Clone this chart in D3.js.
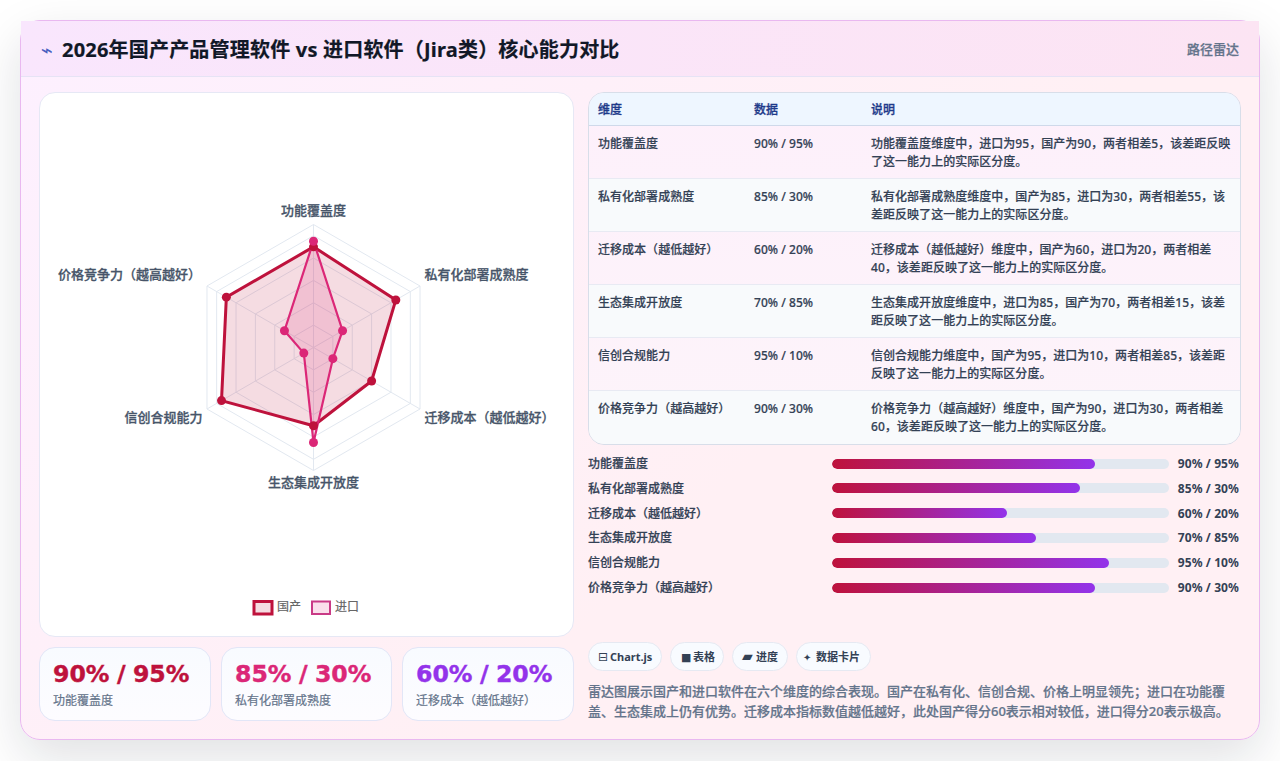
<!DOCTYPE html>
<html lang="zh"><head><meta charset="utf-8">
<script src="https://cdn.jsdelivr.net/npm/d3@7/dist/d3.min.js"></script>
<style>
*{box-sizing:border-box}
html,body{margin:0;padding:0;width:1280px;height:761px;overflow:hidden;background:#fff;font-family:"Noto Sans","Noto Sans CJK SC",sans-serif}
#card{position:absolute;left:20px;top:20px;width:1240px;height:720px;border:1px solid #e9b8f0;border-radius:20px;background:linear-gradient(135deg,#fdf0ff 0,#fff0f4 60%,#fff0f4 100%);box-shadow:0 18px 50px rgba(15,23,42,.13)}
#head{position:absolute;left:0;top:0;width:100%;height:56px;background:linear-gradient(90deg,#f9e6fd,#fce4f3);border-bottom:1px solid #e6e3f5}
#title{position:absolute;left:41px;top:14px;font-size:20px;letter-spacing:.2px;font-weight:700;color:#111827;line-height:30px;white-space:nowrap;-webkit-text-stroke:.2px #111827}
#ico{position:absolute;left:20px;top:14px;font-size:20px;color:#4a5fc0;line-height:30px;font-family:"DejaVu Sans"}
#src{position:absolute;right:20px;top:16px;font-size:13px;font-weight:500;color:#64748b;-webkit-text-stroke:.25px #64748b;line-height:24px}
#chartbox{position:absolute;left:18px;top:71px;width:535px;height:545px;background:#fff;border:1px solid #e6e8f5;border-radius:16px}
svg{position:absolute;left:0;top:0}
.kpi{position:absolute;top:626px;height:74px;background:linear-gradient(180deg,#f8fbff,#fdfcff);border:1px solid #e2e6f7;border-radius:16px}
.kpi b{position:absolute;left:13px;top:9px;font-size:23.6px;word-spacing:-.8px;font-weight:700;font-family:"DejaVu Sans";line-height:34px;white-space:nowrap;-webkit-text-stroke:.4px currentColor}
.kpi span{position:absolute;left:13px;top:43px;font-size:12px;color:#64748b;line-height:20px;white-space:nowrap;-webkit-text-stroke:.2px #64748b}
#tbl{position:absolute;left:567px;top:71px;width:653px;height:353px;border:1px solid #d8dee9;border-radius:16px;overflow:hidden;background:linear-gradient(180deg,#fdf0fb,#fdf4fa)}
.row{position:absolute;left:0;width:100%;border-bottom:1px solid #e8eaf3;font-size:12px;color:#334155;font-weight:500;-webkit-text-stroke:.18px #334155;letter-spacing:.03px}
.row div{position:absolute;line-height:18px}
.hrow{background:#eef6ff;border-bottom:1px solid #cfd9ea;color:#1e3a8a;-webkit-text-stroke:.3px #1e3a8a}
.bar{position:absolute;left:567px;width:651px;height:20px;font-size:12px;font-weight:500;color:#334155}
.bar .l{position:absolute;left:0;top:0;line-height:20px;white-space:nowrap;-webkit-text-stroke:.22px #334155}
.bar .v{position:absolute;right:0;top:0;line-height:20px;font-weight:700;white-space:nowrap;letter-spacing:.1px}
.bar .t{position:absolute;left:244px;top:4.5px;width:337px;height:10px;border-radius:5px;background:#e2e8f0;overflow:hidden}
.bar .f{height:100%;border-radius:5px;background:linear-gradient(90deg,#be123c,#9333ea)}
.tag{position:absolute;top:621px;height:29px;border:1px solid #e6e9f2;border-radius:15px;background:#f8fbff;font-size:11px;font-weight:700;color:#334155;line-height:27px;padding-left:9px;white-space:nowrap}
.tag i{font-style:normal;display:inline-block;font-family:"DejaVu Sans";font-weight:400;line-height:10px}
#note{position:absolute;left:567px;top:660px;width:650px;font-size:13px;font-weight:500;line-height:20px;color:#64748b;-webkit-text-stroke:.22px #64748b}
</style></head><body>
<div id="card">
<div id="head"><div id="ico">⌁</div><div id="title">2026年国产产品管理软件 vs 进口软件（Jira类）核心能力对比</div><div id="src">路径雷达</div></div>
<div id="chartbox"></div>
<div id="tbl"></div>
<div id="bars"></div>
<div id="tags"></div>
<div id="kpis"></div>
<div id="note">雷达图展示国产和进口软件在六个维度的综合表现。国产在私有化、信创合规、价格上明显领先；进口在功能覆盖、生态集成上仍有优势。迁移成本指标数值越低越好，此处国产得分60表示相对较低，进口得分20表示极高。</div>
</div>
<script>
const categories=["功能覆盖度","私有化部署成熟度","迁移成本（越低越好）","生态集成开放度","信创合规能力","价格竞争力（越高越好）"];
const domestic=[90,85,60,70,95,90];
const imported=[95,30,20,85,10,30];
const ringTicks=[20,40,60,80,100,110];
const seriesNames=["国产","进口"];
const notes=["功能覆盖度维度中，进口为95，国产为90，两者相差5，该差距反映了这一能力上的实际区分度。","私有化部署成熟度维度中，国产为85，进口为30，两者相差55，该差距反映了这一能力上的实际区分度。","迁移成本（越低越好）维度中，国产为60，进口为20，两者相差40，该差距反映了这一能力上的实际区分度。","生态集成开放度维度中，进口为85，国产为70，两者相差15，该差距反映了这一能力上的实际区分度。","信创合规能力维度中，国产为95，进口为10，两者相差85，该差距反映了这一能力上的实际区分度。","价格竞争力（越高越好）维度中，国产为90，进口为30，两者相差60，该差距反映了这一能力上的实际区分度。"];
const tableHead=["维度","数据","说明"];
const tagIcons=["⊟","■","▰","✦"];
const tagTexts=["Chart.js","表格","进度","数据卡片"];
const pair=i=>`${domestic[i]}% / ${imported[i]}%`;

// table
const tbl=d3.select("#tbl");
const colX=[9,165,282];
const hr=tbl.append("div").attr("class","row hrow").style("top","0px").style("height","33px");
tableHead.forEach((t,i)=>hr.append("div").style("left",colX[i]+"px").style("top","8px").text(t));
categories.forEach((c,i)=>{
 const r=tbl.append("div").attr("class","row").style("top",(33+i*53)+"px").style("height","53px")
  .style("background",i%2?"#f8fafc":"transparent").style("border-bottom",i==5?"none":null);
 r.append("div").style("left",colX[0]+"px").style("top","9px").text(c);
 r.append("div").style("left",colX[1]+"px").style("top","9px").text(pair(i));
 r.append("div").style("left",colX[2]+"px").style("top","9px").style("width","362px").text(notes[i]);
});
// bars
const bx=d3.scaleLinear().domain([0,115.5]).range([0,337]);
categories.forEach((c,i)=>{
 const b=d3.select("#bars").append("div").attr("class","bar").style("top",(433+i*24.8)+"px");
 b.append("div").attr("class","l").text(c);
 b.append("div").attr("class","v").text(pair(i));
 b.append("div").attr("class","t").append("div").attr("class","f").style("width",bx(domestic[i])+"px");
});
// tags
const tagBox=[[567,74],[649,54],[711,56],[775,75]];
const tagIconW=[12,12,14,13];
const tagIconSize=[12,11,14,10];
const tagPad=[9,10,9,6];
tagTexts.forEach((t,i)=>{
 const p=tagBox[i];
 const g=d3.select("#tags").append("div").attr("class","tag").style("left",p[0]+"px").style("width",p[1]+"px").style("padding-left",tagPad[i]+"px");
 g.append("i").style("width",tagIconW[i]+"px").style("font-size",tagIconSize[i]+"px").text(tagIcons[i]);
 g.append("span").text(t);
});
// kpis
const kpiColors=["#be123c","#db2777","#9333ea"],kpiX=[18,200,381],kpiW=[172,171,172];
[0,1,2].forEach(i=>{
 const k=d3.select("#kpis").append("div").attr("class","kpi").style("left",kpiX[i]+"px").style("width",kpiW[i]+"px");
 k.append("b").style("color",kpiColors[i]).text(pair(i));
 k.append("span").text(categories[i]);
});
// radar
const svg=d3.select("body").append("svg").attr("width",1280).attr("height",761);
const cx=313.5,cy=347.5;
const r=d3.scaleLinear().domain([0,110]).range([0,123]);
const ang=d3.scalePoint().domain(d3.range(6)).range([0,300]);
const pt=(i,v)=>{const a=ang(i)*Math.PI/180;return [cx+r(v)*Math.sin(a),cy-r(v)*Math.cos(a)]};
const line=d3.line().curve(d3.curveLinearClosed);
ringTicks.forEach(t=>svg.append("path").attr("d",line(d3.range(6).map(i=>pt(i,t)))).attr("fill","none").attr("stroke","#e2e8f0").attr("stroke-width",1));
d3.range(6).forEach(i=>{const p=pt(i,110);svg.append("line").attr("x1",cx).attr("y1",cy).attr("x2",p[0]).attr("y2",p[1]).attr("stroke","#e2e8f0")});
[[domestic,"#be123c","rgba(190,18,60,.15)",3],[imported,"#db2777","rgba(219,39,119,.15)",2.2]].forEach(([vals,col,fill,w])=>{
 svg.append("path").attr("d",line(vals.map((v,i)=>pt(i,v)))).attr("fill",fill).attr("stroke",col).attr("stroke-width",w);
});
[[domestic,"#be123c"],[imported,"#db2777"]].forEach(([vals,col])=>{
 svg.selectAll(null).data(vals).join("circle").attr("cx",(v,i)=>pt(i,v)[0]).attr("cy",(v,i)=>pt(i,v)[1]).attr("r",4.5).attr("fill",col);
});
const labelPos=[[0,-137.5,"middle"],[111,-74,"start"],[111,69,"start"],[0,134,"middle"],[-111,69,"end"],[-118.5,-74,"end"]];
categories.forEach((c,i)=>{
 svg.append("text").attr("x",cx+labelPos[i][0]+(i==5?6:0)).attr("y",cy+labelPos[i][1]).attr("text-anchor",labelPos[i][2]).attr("dominant-baseline","central")
  .attr("font-size",13).attr("font-weight",500).attr("fill","#475569").attr("stroke","#475569").attr("stroke-width",.28).text(c);
});
// legend
const lg=[[253,"#be123c","rgba(190,18,60,.15)",3],[311,"#c93a86","rgba(219,39,119,.15)",2]];
lg.forEach((l,i)=>{
 svg.append("rect").attr("x",l[0]+1).attr("y",601.5).attr("width",18).attr("height",12.5).attr("fill",l[2]).attr("stroke",l[1]).attr("stroke-width",l[3]);
 svg.append("text").attr("x",l[0]+24).attr("y",606.5).attr("dominant-baseline","central").attr("font-size",12).attr("fill","#666").attr("stroke","#666").attr("stroke-width",.2).text(seriesNames[i]);
});
</script></body></html>
